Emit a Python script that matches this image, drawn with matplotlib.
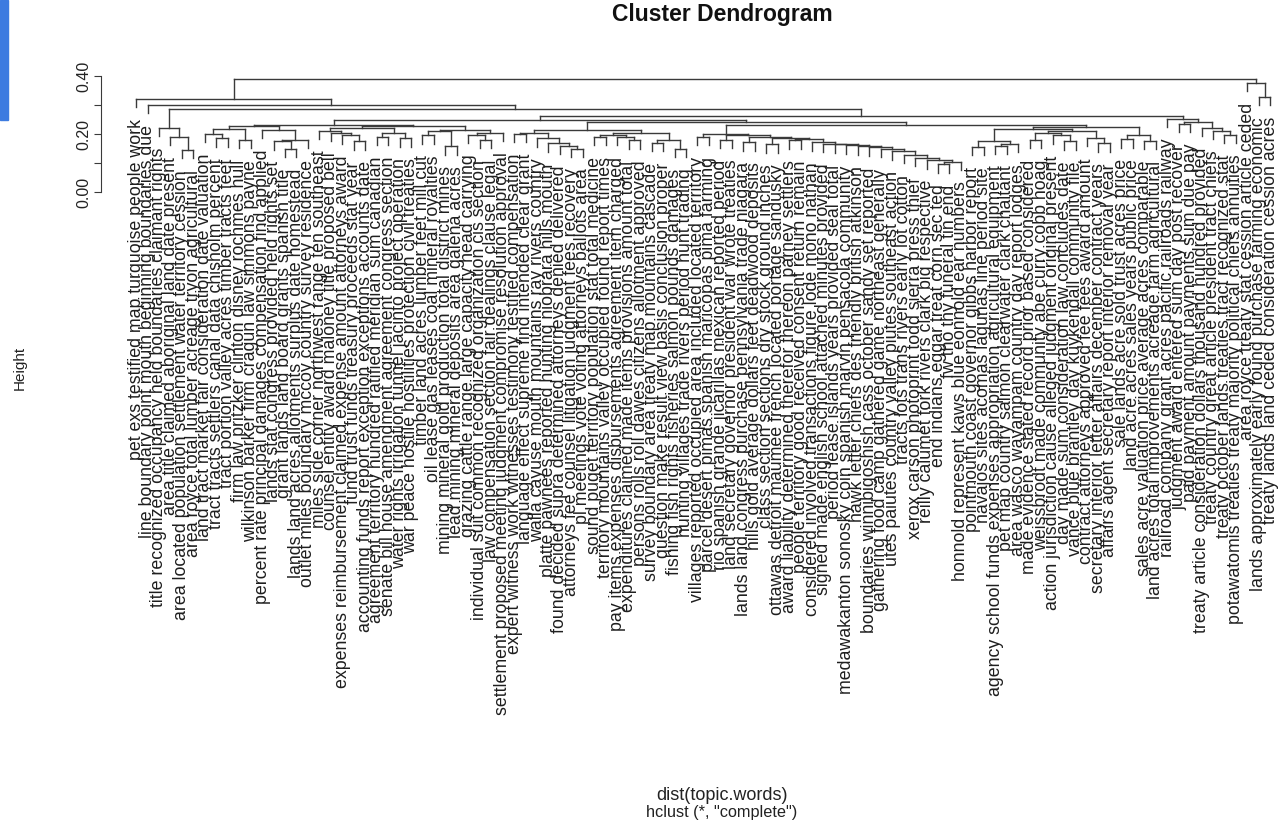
import matplotlib
matplotlib.use("Agg")
import matplotlib.pyplot as plt
from matplotlib import font_manager

# leaf labels, left to right
labels = [
    "pet exs testified map turquoise people work",
    "line boundary point mouth beginning boundaries due",
    "title recognized occupancy held boundaries claimant rights",
    "area title claimed aboriginal land date present",
    "area located population settlement water territory cession",
    "area royce total lumber acreage tryon agricultural",
    "land tract market fair consideration date valuation",
    "tract tracts settlers canal data chisholm percent",
    "tract portion valley acres timber tracts feet",
    "firm law pritzker clinton disney rochmes hull",
    "wilkinson barker firm cragun law simmons payne",
    "percent rate principal damages compensation find applied",
    "lands stat congress provided held rights set",
    "grant lands land board grants spanish title",
    "lands land acres allotments surplus date homestead",
    "outlet miles boundary mccoy country survey residence",
    "miles side corner northwest range ten southeast",
    "counsel entity award maloney title proposed bell",
    "expenses reimbursement claimed expense amount attorneys award",
    "fund trust funds treasury proceeds stat year",
    "accounting funds report exception exceptions accounts date",
    "agreement territory hundred ratified meridian sum canadian",
    "senate bill house amendment agreement congress section",
    "water rights irrigation tunnel jacinto project operation",
    "war peace hostile hostilities protection civil treaties",
    "timber land acres lumber feet mill cut",
    "oil lease gas leases coal mineral royalties",
    "mining mineral gold production total district mines",
    "lead mining mineral deposits area galena acres",
    "grazing cattle range large capacity head carrying",
    "individual suit common recognized organization cis section",
    "law compensation section fair dealings clause legal",
    "settlement proposed meeting judgment compromise resolution approval",
    "expert witness work witnesses testimony testified compensation",
    "language effect supreme find intended clear grant",
    "walla cayuse mouth mountains ray rivers country",
    "platte pawnees reported hunting niobrara hills mouth",
    "found decided supra determined attorneys denied delivered",
    "attorneys fee counsel litigation judgment fees recovery",
    "pl meetings vote voting attorneys ballots area",
    "sound puget territory population stat total medicine",
    "territory mountains valley occupied found report times",
    "pay items expenses disbursements agreement item charged",
    "expenditures claimed made items provisions amount total",
    "persons rolls roll dawes citizens allotment approved",
    "survey boundary area treaty map mountains cascade",
    "question make result view basis conclusion proper",
    "fishing fish rights fisheries salmon pounds damages",
    "hunting villages trade rivers period hunt trading",
    "villages reported occupied area included located territory",
    "parcel desert pimas spanish maricopas pima farming",
    "rio spanish grande jicarillas mexican reported period",
    "land secretary governor president war wrote treaties",
    "lands land congress purchase pennsylvania trade niagara",
    "hills gold average dollars feet deadwood deposits",
    "class section sections dry stock ground inches",
    "ottawas detroit maumee french located portage sandusky",
    "award liability determined therefor thereon parney settlers",
    "people territory good received consent return remain",
    "considered involved transactions figure lode mono nathan",
    "signed made english school attached minutes provided",
    "period lease islands years provided seal total",
    "medawakanton sonosky coin spanish marvin pensacola community",
    "hawk letter chiefs des friendly british atkinson",
    "boundaries winnibigoshish cass october sandy set reported",
    "gathering food camp gathered game northeast generally",
    "utes paiutes country valley piutes southeast action",
    "tracts lots trans rivers early lot cotton",
    "xerox carson photoprint todd sierra press thief",
    "reilly calumet fork rivers clark big respective",
    "end indians eggar treat corn sec ted",
    "fw tho thy funeral tin end",
    "honnold represent kaws blue eonnold ear numbers",
    "pointmouth coast governor gibbs harbor report",
    "navajos sites acomas lagunas line period site",
    "agency school funds expenses appropriation agricultural equipment",
    "pet map country salmon clearwater clark chaltant",
    "area wasco wayampam country day report lodges",
    "made evidence stated record prior based considered",
    "weissbrodt made community abe curry cobb hoag",
    "action jurisdiction cause alleged judgment original present",
    "day made sum consideration law concludes date",
    "vance blue brantley day kuykendall community file",
    "contract attorneys approved fee fees award amount",
    "secretary interior letter affairs december contract years",
    "affairs agent secretary report interior removal year",
    "sale lands acre sold trust acres price",
    "land acre acres sales years public price",
    "sales acre valuation price average acres comparable",
    "land acres total improvements acreage farm agricultural",
    "railroad company grant acres pacific railroads railway",
    "judgment award entered sum day post recover",
    "paid payment amount payments sum due pay",
    "treaty article consideration dollars thousand hundred provided",
    "treaty country great article president tract chiefs",
    "treaty october lands treaties tract recognized stat",
    "potawatomis treaties treaty majority political chiefs annuities",
    "area royce treaty stat cession article ceded",
    "lands approximately early found purchase farming economic",
    "treaty lands land ceded consideration cession acres",
]

# merge tree written as (left,right)height ; plain numbers are leaf positions
g1 = "(3,(4,(5,6)0.145)0.19)0.222"
e1 = ("((((7,(8,9)0.185)0.20,(10,11)0.18)0.218,(12,((13,(14,15)0.15)0.175,16)0.18)0.214)0.226,"
      "(((17,(18,(19,(20,21)0.175)0.195)0.205)0.212,((22,23)0.19,(24,25)0.185)0.205)0.222,"
      "(((26,27)0.195,(28,29)0.158)0.21,((30,(31,32)0.18)0.198,33)0.205)0.215)0.228)0.232")
e2 = ("(((34,35)0.2,(36,(37,(38,(39,40)0.15)0.16)0.168)0.185)0.205,"
      "(((41,42)0.19,(43,(44,45)0.178)0.19)0.198,((46,47)0.17,(48,49)0.15)0.18)0.202)0.215")
f1a = ("((50,51)0.19,((52,53)0.18,((54,55)0.172,((56,57)0.165,((58,59)0.178,(60,(61,(62,(63,(64,(65,"
       "(66,(67,(68,(69,(70,((71,72)0.095,73)0.105)0.11)0.117)0.128)0.14)0.148)0.154)0.158)0.161)"
       "0.164)0.167)0.172)0.182)0.186)0.19)0.195)0.2")
f1b = ("((((74,75)0.155,((76,77)0.16,78)0.166)0.175,(((79,80)0.18,(81,(82,83)0.175)0.195)0.202,"
       "(84,(85,86)0.168)0.186)0.21)0.218,((87,88)0.182,(89,90)0.176)0.196)0.225")
f2 = "(91,((92,93)0.235,(94,(95,(96,97)0.198)0.212)0.222)0.242)0.252"
tree_str = ("((1,(2,(" + g1 + ",((" + e1 + ",(" + e2 + ",(" + f1a + "," + f1b + ")0.232)0.24)0.247,"
            + f2 + ")0.262)0.285)0.30)0.322,(98,(99,100)0.328)0.376)0.39")

yticks = [0.0, 0.1, 0.2, 0.3, 0.4]
ytick_labels = ["0.00", "", "0.20", "", "0.40"]


def parse(s):
    pos = 0

    def read_num():
        nonlocal pos
        start = pos
        while pos < len(s) and (s[pos].isdigit() or s[pos] == "."):
            pos += 1
        return s[start:pos]

    def node():
        nonlocal pos
        if s[pos] == "(":
            pos += 1
            left = node()
            pos += 1  # ','
            right = node()
            pos += 1  # ')'
            return (float(read_num()), left, right)
        return int(read_num())

    return node()


tree = parse(tree_str)

names = {f.name for f in font_manager.fontManager.ttflist}
leaf_font = "Liberation Sans Narrow" if "Liberation Sans Narrow" in names else "Liberation Sans"
plt.rcParams["font.family"] = ["Liberation Sans", "DejaVu Sans"]

fig = plt.figure(figsize=(12.86, 8.23), dpi=100)
# axes spans pixel x 101..1276, y (0.40 at 76 px, 0 at 192 px)
ax = fig.add_axes([101 / 1286, (823 - 206.5) / 823, 1175 / 1286, 130.5 / 823])
ax.set_xlim(-2.06, 100.5)
ax.set_ylim(-0.05, 0.40)

hang = 0.029
offset = 0.04
lc = "#3a3a3a"


def draw(node, parent_h):
    if isinstance(node, int):
        ax.plot([node, node], [parent_h, parent_h - hang], color=lc, lw=1)
        ax.text(node, parent_h - hang - offset, labels[node - 1], rotation=90,
                ha="center", va="top", fontsize=12.8, family=leaf_font,
                color="#1e1e1e", clip_on=False)
        return node
    h, left, right = node
    xl = draw(left, h)
    xr = draw(right, h)
    ax.plot([xl, xr], [h, h], color=lc, lw=1)
    if parent_h is not None:
        ax.plot([(xl + xr) / 2, (xl + xr) / 2], [h, parent_h], color=lc, lw=1)
    return (xl + xr) / 2


draw(tree, None)

for s in ["top", "right", "bottom"]:
    ax.spines[s].set_visible(False)
ax.spines["left"].set_bounds(0, 0.40)
ax.spines["left"].set_color(lc)
ax.set_xticks([])
ax.set_yticks(yticks)
ax.set_yticklabels(ytick_labels, rotation=90, va="center", fontsize=11.5, color="#222222")
ax.tick_params(axis="y", length=5, color=lc, pad=2)

fig.text(722 / 1286, 1 - 15 / 823, "Cluster Dendrogram", ha="center", va="center",
         fontsize=16.5, fontweight="bold", color="#111111")
fig.text(722 / 1286, 1 - 795 / 823, "dist(topic.words)", ha="center", va="center",
         fontsize=13, color="#222222")
fig.text(722 / 1286, 1 - 812 / 823, 'hclust (*, "complete")', ha="center", va="center",
         fontsize=11.7, color="#222222")
fig.text(20 / 1286, 1 - 368 / 823, "Height", rotation=90, ha="center", va="center",
         fontsize=11, color="#222222")

fig.patches.append(plt.Rectangle((0, 1 - 120 / 823), 8 / 1286, 120 / 823,
                                 transform=fig.transFigure, color="#3d7be0", zorder=0))

fig.savefig("out.png", dpi=100)
